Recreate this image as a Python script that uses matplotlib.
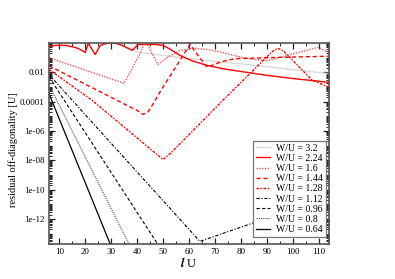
import numpy as np
import matplotlib
matplotlib.use("Agg")
import matplotlib.pyplot as plt
from matplotlib.ticker import FixedLocator, LogLocator, MultipleLocator, NullFormatter

plt.rcParams['font.family'] = ['Liberation Serif', 'DejaVu Serif']
plt.rcParams['mathtext.fontset'] = 'stix'

# x = l*U, y given as log10 of the residual off-diagonality
x_32 = [6, 25, 34, 41, 60, 80, 97, 114]
lg_32 = [0.8, 0.3, -0.15, -0.65, -1.07, -1.42, -1.75, -2.09]

x_224 = [6, 9, 12.3, 15, 17.3, 20, 21.2, 22.5, 23.8, 25.8, 28.8, 31.5, 34.2, 38.1, 40.4,
         43.8, 47, 50, 53, 56.5, 61, 66.9, 73, 79.6, 90, 100, 114]
lg_224 = [-0.23, -0.15, -0.16, -0.25, -0.37, -0.64, 0.0, -0.4, -0.78, -0.16, 0.0, 0.0, -0.16,
          -0.5, -0.1, -0.1, -0.1, -0.16, -0.45, -0.84, -1.2, -1.52, -1.75, -1.93, -2.2, -2.42, -2.68]

x_16 = [6, 35, 41.2, 42.7, 43.8, 46, 48, 52, 56.5, 62, 67, 72, 77, 84, 90.4, 100, 109.6, 114]
lg_16 = [-1.0, -2.75, -0.71, -0.05, -0.05, -0.8, -1.46, -0.95, -0.5, -0.35, -0.44, -0.6,
         -0.84, -1.1, -1.2, -0.75, -0.3, -0.64]

x_144 = [6, 40, 42.3, 44, 46, 49.2, 60.4, 63.5, 67, 72, 77.7, 90, 114]
lg_144 = [-1.55, -4.6, -4.86, -4.75, -4.2, -3.22, -0.1, -0.85, -1.65, -1.3, -1.07, -1.0, -0.9]

x_128 = [6, 22.6, 47, 50, 53, 73.1, 92, 94.2, 96.5, 107.3, 114]
lg_128 = [-1.8, -3.9, -7.5, -7.94, -7.5, -3.9, -0.6, -0.35, -0.55, -2.5, -3.02]

x_112 = [6, 64.2, 84.6, 114]
lg_112 = [-2.15, -13.52, -12.27, -10.2]

x_096 = [6, 49]
lg_096 = [-2.3, -14.0]

x_080 = [6, 37.7]
lg_080 = [-2.85, -14.0]

x_064 = [6, 30.3]
lg_064 = [-3.45, -14.0]

ytick_vals = [1e-2, 1e-4, 1e-6, 1e-8, 1e-10, 1e-12]
ytick_labels = ['0.01', '0.0001', '1e-06', '1e-08', '1e-10', '1e-12']
xtick_vals = [10, 20, 30, 40, 50, 60, 70, 80, 90, 100, 110]

fig = plt.figure(figsize=(3.95, 2.79), dpi=100)
ax = fig.add_axes([0.124, 0.1254, 0.709, 0.7204])

ax.plot(x_32, 10.0 ** np.array(lg_32), color='#d8d8d8', lw=1.0, label='W/U = 3.2')
ax.plot(x_224, 10.0 ** np.array(lg_224), color='red', lw=1.0, label='W/U = 2.24')
ax.plot(x_16, 10.0 ** np.array(lg_16), color='#ff5050', lw=1.0, ls=(0, (1, 1)), label='W/U = 1.6')
ax.plot(x_144, 10.0 ** np.array(lg_144), color='red', lw=1.0, ls=(0, (3, 2)), label='W/U = 1.44')
ax.plot(x_128, 10.0 ** np.array(lg_128), color='red', lw=1.0, ls=(0, (2, 1, 1, 1)), label='W/U = 1.28')
ax.plot(x_112, 10.0 ** np.array(lg_112), color='black', lw=0.8, ls=(0, (3, 1.5, 1, 1.5)), label='W/U = 1.12')
ax.plot(x_096, 10.0 ** np.array(lg_096), color='black', lw=0.8, ls=(0, (3, 2)), label='W/U = 0.96')
ax.plot(x_080, 10.0 ** np.array(lg_080), color='#444444', lw=0.8, ls=(0, (1, 1)), label='W/U = 0.8')
ax.plot(x_064, 10.0 ** np.array(lg_064), color='black', lw=0.9, label='W/U = 0.64')

ax.set_yscale('log')
ax.set_xlim(6, 114)
ax.set_ylim(2e-14, 1.0)

ax.set_yticks(ytick_vals, ytick_labels)
ax.yaxis.set_minor_locator(LogLocator(base=10, subs=np.arange(1, 10), numticks=60))
ax.yaxis.set_minor_formatter(NullFormatter())
ax.xaxis.set_major_locator(FixedLocator(xtick_vals))
ax.xaxis.set_minor_locator(MultipleLocator(5))

ax.tick_params(which='both', direction='in', top=True, right=True, labelsize=6.5,
               color='#222222', pad=3)
ax.tick_params(which='major', length=4, width=0.9)
ax.tick_params(which='minor', length=2, width=0.7)

for s in ax.spines.values():
    s.set_color('#555555')
    s.set_linewidth(1.2)

ax.set_ylabel('residual off-diagonality [U]', fontsize=7.5)
ax.yaxis.set_label_coords(-0.11, 0.47)
ax.set_xlabel(r'$\mathbfit{l}$ U', fontsize=9, labelpad=0)

leg = ax.legend(loc='lower right', bbox_to_anchor=(0.989, 0.035), borderaxespad=0,
                fontsize=7, frameon=True, fancybox=False, framealpha=1,
                edgecolor='#777777', handlelength=1.5, handletextpad=0.6,
                labelspacing=0.12, borderpad=0.3)
leg.get_frame().set_linewidth(0.9)

fig.savefig('out.png', dpi=100)
